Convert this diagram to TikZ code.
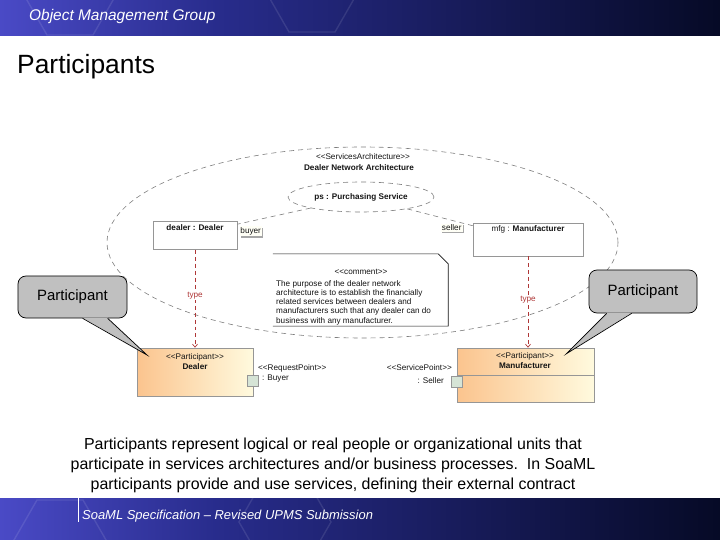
\documentclass[tikz,border=0pt]{standalone}
\usepackage{fontspec}
\setmainfont{Liberation Sans}
\usetikzlibrary{
    arrows.meta,
    calc,
    positioning,
    shapes.geometric,
    shadows
}
\definecolor{bandlight}{RGB}{74,74,198}
\definecolor{bandmid}{RGB}{40,44,140}
\definecolor{banddark}{RGB}{6,10,38}
\definecolor{ink}{RGB}{20,20,20}
\definecolor{dashgray}{RGB}{125,125,125}
\definecolor{typered}{RGB}{175,55,55}
\definecolor{partorange}{RGB}{251,196,142}
\definecolor{partpale}{RGB}{255,250,222}
\definecolor{partedge}{RGB}{150,150,150}
\definecolor{portfill}{RGB}{214,228,214}
\definecolor{calloutfill}{RGB}{192,192,192}
\definecolor{rolefill}{RGB}{255,255,246}

\pgfdeclarehorizontalshading{omgband}{100bp}{color(0bp)=(bandlight); color(25bp)=(bandlight); color(40bp)=(bandmid); color(75bp)=(banddark); color(100bp)=(banddark)}

\newcommand{\stereo}[1]{<\kern0pt<#1>\kern0pt>}

\tikzset{
    line join=round,
    headtext/.style={font=\fontsize{15.5}{18}\selectfont\itshape, text=white},
    titletext/.style={font=\fontsize{26.5}{30}\selectfont, text=black},
    bodytext/.style={font=\fontsize{16}{20}\selectfont, text=black},
    foottext/.style={font=\fontsize{13}{15}\selectfont\itshape, text=white},
    hexline/.style={draw=white, opacity=0.1, line width=1.4pt},
    umltext/.style={font=\fontsize{8.2}{9.3}\selectfont, text=ink},
    umlbold/.style={umltext, font=\fontsize{8.2}{9.3}\selectfont\bfseries},
    scopedash/.style={
        draw=dashgray,
        line width=0.6pt,
        dash pattern=on 5pt off 4pt
    },
    partbox/.style={
        rectangle,
        draw=partedge,
        line width=0.6pt,
        fill=white
    },
    participant/.style={
        rectangle,
        draw=partedge,
        line width=0.6pt,
        left color=partorange,
        right color=partpale,
        drop shadow={shadow xshift=1.2pt, shadow yshift=-1.2pt, fill=black!35, opacity=1}
    },
    port/.style={
        rectangle,
        draw=partedge,
        line width=0.6pt,
        fill=portfill,
        minimum size=11bp
    },
    role/.style={
        umltext,
        fill=rolefill,
        inner sep=1pt,
        drop shadow={shadow xshift=1.5pt, shadow yshift=-1.5pt, fill=black!35, opacity=1}
    },
    notebox/.style={draw=ink, line width=0.6pt, fill=white},
    typeline/.style={
        draw=typered,
        line width=0.7pt,
        dash pattern=on 4pt off 3pt,
        -{Straight Barb[length=3pt, width=5pt]}
    },
    typelabel/.style={umltext, text=typered, fill=white, inner sep=1pt},
    callout/.style={
        rectangle,
        rounded corners=8bp,
        draw=black,
        line width=0.7pt,
        fill=calloutfill,
        font=\fontsize{15}{18}\selectfont
    },
    calloutedge/.style={draw=black, line width=0.7pt}
}

\begin{document}
\begin{tikzpicture}[x=1bp, y=-1bp, every node/.style={inner sep=0pt}]
\useasboundingbox (0,0) rectangle (720,540);

% Header and footer bands
\shade[shading=omgband] (0,0) rectangle (720,36);
\shade[shading=omgband] (0,498) rectangle (720,540);
\begin{scope}
    \clip (0,0) rectangle (720,36) (0,498) rectangle (720,540);
    \foreach \cx/\cy in {70/-5, 165/-45, 312/-8, 60/540, 285/522} {
        \draw[hexline] (\cx-46,\cy) -- (\cx-23,\cy-40) -- (\cx+23,\cy-40)
            -- (\cx+46,\cy) -- (\cx+23,\cy+40) -- (\cx-23,\cy+40) -- cycle;
    }
\end{scope}
\node[headtext, anchor=west] (omg) at (29,17) {Object Management Group};
\node[titletext, anchor=west] (title) at (17,67) {Participants};

% Services architecture
\node[ellipse, scopedash, minimum width=511bp, minimum height=191bp] (arch) at (362.5,242.5) {};
\node[umltext] (archStereo) at (363,157) {\stereo{ServicesArchitecture}};
\node[umlbold] (archName) at (359,168) {Dealer Network Architecture};
\node[ellipse, scopedash, umlbold, minimum width=146bp, minimum height=30bp] (ps) at (361,197) {ps : Purchasing Service};

% Parts
\node[partbox, minimum width=84bp, minimum height=28bp] (dealerPart) at (195,235.5) {};
\node[umlbold, below=3bp of dealerPart.north] (dealerPartName) {dealer : Dealer};
\node[partbox, minimum width=110bp, minimum height=33bp] (mfgPart) at (528,239.5) {};
\node[umltext, below=3bp of mfgPart.north] (mfgPartName) {mfg : \textbf{Manufacturer}};

\draw[scopedash] (ps) -- ($(dealerPart.north east)+(0,-3bp)$);
\draw[scopedash] (ps) -- ($(mfgPart.north west)+(0,-3bp)$);
\node[role, anchor=north west] (buyerRole) at ($(dealerPart.north east)+(2bp,-5bp)$) {buyer};
\node[role, anchor=north east] (sellerRole) at ($(mfgPart.north west)+(-10bp,-1bp)$) {seller};

% Comment
\node[minimum width=175bp, minimum height=72bp] (note) at (360.5,290) {};
\draw[notebox] (note.north west) -- ($(note.north east)+(-10bp,0)$)
    -- ($(note.north east)+(0,-10bp)$) -- (note.south east) -- (note.south west);
\node[umltext] (noteHead) at (361,272) {\stereo{comment}};
\node[umltext, align=left, anchor=north west] (noteBody) at (276,280) {The purpose of the dealer network\\
    architecture is to establish the financially\\
    related services between dealers and\\
    manufacturers such that any dealer can do\\
    business with any manufacturer.};

% Participants
\node[participant, minimum width=116bp, minimum height=48bp] (dealerCls) at (195,372) {};
\node[umltext] (dealerStereo) at (195,357) {\stereo{Participant}};
\node[umlbold] (dealerClsName) at (195,366.5) {Dealer};
\node[participant, minimum width=137bp, minimum height=54bp] (mfgCls) at (525.5,375) {};
\draw[partedge, line width=0.6pt] ($(mfgCls.north west)+(0,-28bp)$) -- ($(mfgCls.north east)+(0,-28bp)$);
\node[umltext] (mfgStereo) at (525,356) {\stereo{Participant}};
\node[umlbold] (mfgClsName) at (525,366) {Manufacturer};

% Type dependencies
\foreach \src/\dst/\lbl in {dealerPart/dealerCls/typeL, mfgPart/mfgCls/typeR} {
    \draw[typeline] (\src.south) -- (\src.south |- \dst.north)
        node[typelabel, pos=0.47] (\lbl) {type};
}

% Ports
\node[port] (buyerPort) at (253,380.5) {};
\node[umltext, anchor=west] (buyerPortSt) at (258,368) {\stereo{RequestPoint}};
\node[umltext, anchor=west] (buyerPortName) at (262,378.5) {: Buyer};
\node[port] (sellerPort) at (457,382) {};
\node[umltext, anchor=east] (sellerPortSt) at (452,368) {\stereo{ServicePoint}};
\node[umltext, anchor=east] (sellerPortName) at (444,381) {: Seller};

% Callouts
\node[callout, minimum width=109bp, minimum height=42bp] (calloutL) at (72.5,297) {Participant};
\coordinate (tipL) at (147,355);
\fill[calloutfill] ($(calloutL.south west)+(65bp,0.8bp)$) -- (tipL) -- ($(calloutL.south west)+(90bp,0.8bp)$) -- cycle;
\draw[calloutedge] ($(calloutL.south west)+(65bp,0)$) -- (tipL) -- ($(calloutL.south west)+(90bp,0)$);

\node[callout, minimum width=108bp, minimum height=43bp] (calloutR) at (643,291.5) {Participant};
\coordinate (tipR) at (566,354);
\fill[calloutfill] ($(calloutR.south west)+(18bp,0.8bp)$) -- (tipR) -- ($(calloutR.south west)+(43bp,0.8bp)$) -- cycle;
\draw[calloutedge] ($(calloutR.south west)+(18bp,0)$) -- (tipR) -- ($(calloutR.south west)+(43bp,0)$);

% Summary and footer
\node[bodytext, align=center] (summary) at (333,465) {Participants represent logical or real people or organizational units that\\
    participate in services architectures and/or business processes.\ \ In SoaML\\
    participants provide and use services, defining their external contract};
\draw[white, line width=0.6pt] (78,498) -- (78,522);
\node[foottext, anchor=west] (spec) at (82,516) {SoaML Specification – Revised UPMS Submission};
\end{tikzpicture}
\end{document}
